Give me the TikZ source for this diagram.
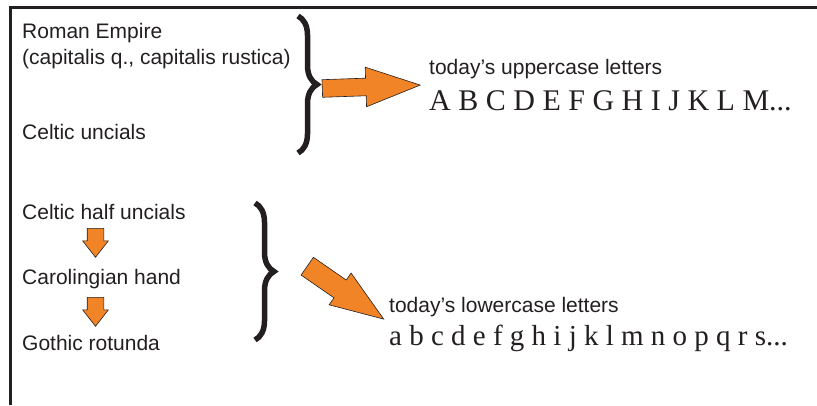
\documentclass[tikz,border=0pt]{standalone}
\usepackage{fontspec}
\usetikzlibrary{shapes.arrows, decorations.pathreplacing}
\newfontfamily\labelfont{Liberation Sans}
\newfontfamily\letterfont{Liberation Serif}
\definecolor{arroworange}{RGB}{241,132,38}
\definecolor{inkblack}{RGB}{35,31,32}
\tikzset{sanslabel/.style = {anchor=base west, inner sep=0pt, text=inkblack, font=\labelfont\fontsize{21}{25}\selectfont}}
\tikzset{alphabet/.style = {anchor=base west, inner sep=0pt, text=inkblack, font=\letterfont\fontsize{30}{36}\selectfont}}
\tikzset{fatarrow/.style = {single arrow, anchor=tail, draw=inkblack, line width=0.6pt, fill=arroworange, single arrow head indent=0pt}}
\tikzset{curly/.style = {decorate, decoration={brace, amplitude=19pt}, line width=5.5pt, draw=inkblack}}

\begin{document}
\begin{tikzpicture}[x=1pt, y=-1pt]
\useasboundingbox (0,0) rectangle (817,405);
\draw [line width=3pt, draw=inkblack] (10,405) -- (10,7) -- (817,7);
% sources
\node [sanslabel] (roman) at (22,38) {Roman Empire};
\node [sanslabel] (capitalis) at (22,64) {(capitalis q., capitalis rustica)};
\node [sanslabel] (uncials) at (22,139) {Celtic uncials};
\node [sanslabel] (halfuncials) at (22,219) {Celtic half uncials};
\node [sanslabel] (carolingian) at (22,284) {Carolingian hand};
\node [sanslabel] (gothic) at (22,350) {Gothic rotunda};
\node [fatarrow, inner sep=8pt, minimum height=29pt, single arrow head extend=4.5pt, single arrow tip angle=76, rotate=-90] (down1) at (95.5,228) {};
\node [fatarrow, inner sep=8pt, minimum height=29pt, single arrow head extend=4.5pt, single arrow tip angle=76, rotate=-90] (down2) at (95.5,297) {};
% braces
\coordinate (uptop) at (298,16);
\coordinate (upbottom) at (298,153);
\coordinate (lowtop) at (255,203);
\coordinate (lowbottom) at (255,340);
\draw [curly] (uptop) -- (upbottom);
\draw [curly] (lowtop) -- (lowbottom);
% results
\node [fatarrow, inner sep=8.5pt, minimum height=98pt, single arrow head extend=11pt, single arrow tip angle=40, rotate=2] (toupper) at (322,88.5) {};
\node [fatarrow, inner sep=10.5pt, minimum height=93pt, single arrow head extend=8.5pt, single arrow tip angle=40, rotate=-34.7] (tolower) at (307,266) {};
\node [sanslabel] (uppertitle) at (429,74) {today’s uppercase letters};
\node [alphabet] (upper) at (429,110) {A B C D E F G H I J K L M...};
\node [sanslabel] (lowertitle) at (389,312) {today’s lowercase letters};
\node [alphabet, font=\letterfont\fontsize{29}{35}\selectfont] (lower) at (389,345) {a b c d e f g h i j k l m n o p q r s...};
\end{tikzpicture}
\end{document}
